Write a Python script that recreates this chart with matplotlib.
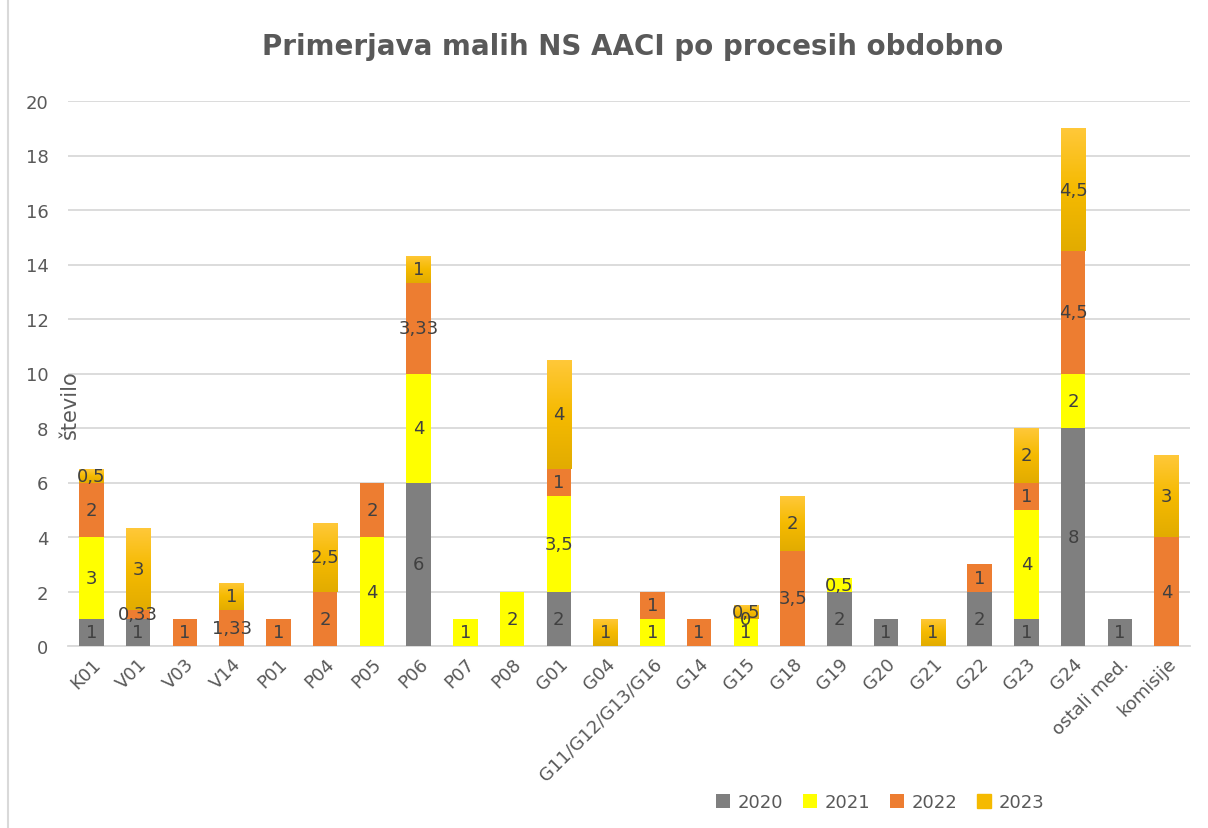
import matplotlib
matplotlib.use("Agg")
import matplotlib.pyplot as plt
import numpy as np
from matplotlib.colors import LinearSegmentedColormap
from matplotlib.patches import Rectangle

categories = ["K01", "V01", "V03", "V14", "P01", "P04", "P05", "P06", "P07", "P08",
              "G01", "G04", "G11/G12/G13/G16", "G14", "G15", "G18", "G19", "G20",
              "G21", "G22", "G23", "G24", "ostali med.", "komisije"]
years = ["2020", "2021", "2022", "2023"]
N = None
v2020 = [1, 1, N, N, N, N, N, 6, N, N, 2, N, N, N, N, N, 2, 1, N, 2, 1, 8, 1, N]
v2021 = [3, N, N, N, N, N, 4, 4, 1, 2, 3.5, N, 1, N, 1, N, 0.5, N, N, N, 4, 2, N, N]
v2022 = [2, 0.33, 1, 1.33, 1, 2, 2, 3.33, N, N, 1, N, 1, 1, 0, 3.5, N, N, N, 1, 1, 4.5, N, 4]
v2023 = [0.5, 3, N, 1, N, 2.5, N, 1, N, N, 4, 1, N, N, 0.5, 2, N, N, 1, N, 2, 4.5, N, 3]
series = [v2020, v2021, v2022, v2023]
colors = ["#7F7F7F", "#FFFF00", "#ED7D31", "#FFC000"]

fig = plt.figure(figsize=(12.08, 8.29), dpi=100)
ax = fig.add_axes([68/1208, 1-647/829, (1190-68)/1208, (647-102)/829])

x = np.arange(len(categories))
width = 0.52
bottom = np.zeros(len(categories))
grad_cmap = LinearSegmentedColormap.from_list("g", ["#E2AC00", "#F5BA00", "#FFC839"])
txtcol = "#404040"
for si, (vals, col) in enumerate(zip(series, colors)):
    h = np.array([0 if v is None else v for v in vals], dtype=float)
    bars = ax.bar(x, h, width, bottom=bottom, color=col, zorder=3, label=years[si])
    if si == 3:
        for b, hv in zip(bars, h):
            if hv <= 0:
                continue
            bx, by = b.get_x(), b.get_y()
            grad = np.linspace(0, 1, 100).reshape(-1, 1)
            im = ax.imshow(grad, cmap=grad_cmap, origin="lower", aspect="auto",
                           extent=[bx, bx + b.get_width(), by, by + b.get_height()],
                           zorder=3.5)
            im.set_clip_path(b)
    for i, v in enumerate(vals):
        if v is None:
            continue
        yc = bottom[i] + h[i] / 2
        s = ("%g" % v).replace(".", ",")
        ax.text(x[i], yc, s, ha="center", va="center", fontsize=13,
                color=txtcol, zorder=5)
    bottom = bottom + h

ax.set_xlim(-0.5, len(categories) - 0.5)
ax.set_ylim(0, 20)
ax.set_yticks(np.arange(0, 21, 2))
ax.yaxis.grid(True, color="#D9D9D9", linewidth=1.3, zorder=0)
ax.set_axisbelow(True)
for sp in ["top", "right", "left"]:
    ax.spines[sp].set_visible(False)
ax.spines["bottom"].set_color("#D9D9D9")
ax.spines["bottom"].set_linewidth(1.3)
ax.tick_params(axis="both", length=0, labelsize=13, colors="#595959")
ax.tick_params(axis="y", pad=14)
ax.set_xticks(x)
ax.set_xticklabels(categories, rotation=45, ha="right", rotation_mode="anchor")
ax.tick_params(axis="x", pad=6)

fig.text(70/1208, 1-405/829, "število", rotation=90, fontsize=15, color="#595959",
         ha="center", va="center")
fig.text(633/1208, 1-47/829, "Primerjava malih NS AACI po procesih obdobno",
         fontsize=20, fontweight="bold", color="#595959", ha="center", va="center")

# legend
handles, labels = ax.get_legend_handles_labels()
handles[3] = Rectangle((0, 0), 1, 1, color="#F5BA00")
leg = fig.legend(handles, labels, loc="center", bbox_to_anchor=(880/1208, 1-803/829),
                 ncol=4, frameon=False, fontsize=13, handlelength=0.8, handleheight=0.8,
                 columnspacing=1.1, handletextpad=0.4)
for t in leg.get_texts():
    t.set_color("#595959")

fig.patches.append(Rectangle((8/1208, -0.01), 1.1, 1.1, transform=fig.transFigure,
                             fill=False, edgecolor="#D9D9D9", linewidth=1.5))
fig.savefig("out.png", dpi=100)
